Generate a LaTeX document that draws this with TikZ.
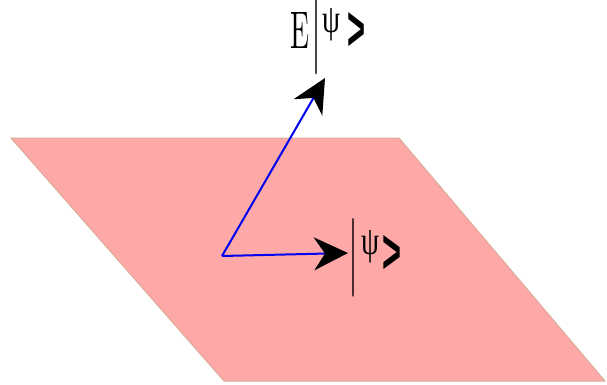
\documentclass[tikz,border=0pt]{standalone}
\usepackage{fontspec}
\usetikzlibrary{arrows.meta}
\newfontfamily\psifont{Liberation Serif}
\newfontfamily\chevfont{Liberation Sans}
\definecolor{planefill}{RGB}{255,168,168}
\definecolor{planeedge}{RGB}{218,172,152}
\definecolor{vecblue}{RGB}{0,0,240}
\tikzset{
  plane/.style={fill=planefill,draw=planeedge,line width=1pt},
  vec/.style={vecblue,line width=2pt,-{Stealth[length=34pt,width=33pt,inset=11pt,black]}},
  glyph/.style={inner sep=0pt,outer sep=0pt,anchor=center}
}
\begin{document}
\begin{tikzpicture}[x=1pt,y=-1pt]
\useasboundingbox (0,0) rectangle (607,384);
\coordinate (tl) at (11,138);
\coordinate (tr) at (399,138);
\coordinate (br) at (605,381);
\coordinate (bl) at (224,381);
\filldraw[plane] (tl) -- (tr) -- (br) -- (bl) -- cycle;
\coordinate (O) at (222,256);
\coordinate (A) at (348,253);
\coordinate (B) at (325,78);
\draw[vec] (O) -- (A);
\draw[vec] (O) -- (B);
% label E|psi>
\node[glyph] (E) at (300,30) {\resizebox{19pt}{36pt}{E}};
\node[glyph] (bar1) at (316.5,36) {\resizebox{10pt}{58pt}{$|$}};
\node[glyph] (psi1) at (331,25) {\resizebox{18pt}{24pt}{\psifont ψ}};
\node[glyph] (ch1) at (356,31) {\resizebox{18pt}{38pt}{\chevfont\bfseries >}};
% label |psi>
\node[glyph] (bar2) at (353,257.5) {\resizebox{10pt}{59pt}{$|$}};
\node[glyph] (psi2) at (370,247) {\resizebox{18pt}{24pt}{\psifont ψ}};
\node[glyph] (ch2) at (392,254) {\resizebox{19pt}{38pt}{\chevfont\bfseries >}};
\end{tikzpicture}
\end{document}
